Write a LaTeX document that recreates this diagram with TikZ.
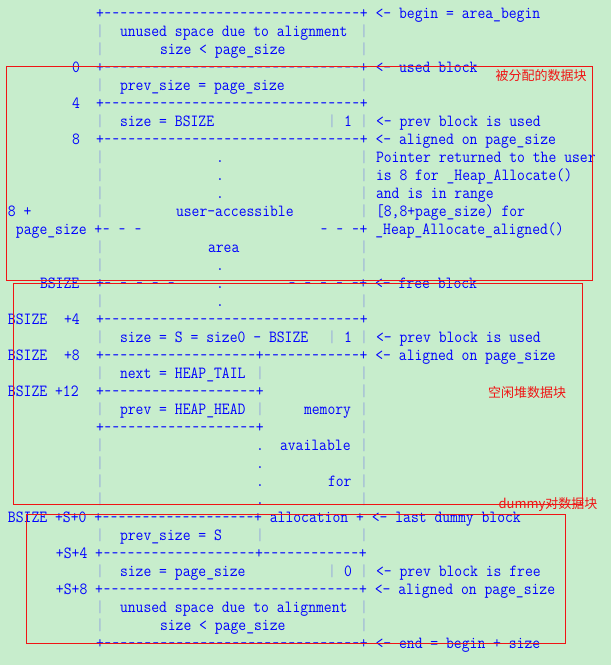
\documentclass[tikz,border=0pt]{standalone}
\usepackage{fontspec}
\usepackage{graphicx}
\setmonofont[FakeStretch=0.896]{Latin Modern Mono}
\newfontfamily\cjk{Noto Sans CJK SC}
\definecolor{bg}{RGB}{199,237,204}
\definecolor{txtblue}{RGB}{0,0,255}
\definecolor{barc}{RGB}{150,170,220}
\definecolor{redc}{RGB}{240,20,20}
\tikzset{
  asc/.style={font=\ttfamily\fontsize{17}{18}\selectfont, text=txtblue, anchor=base west, inner sep=0pt, outer sep=0pt},
  redbox/.style={draw=redc, line width=1pt},
  redlabel/.style={font=\cjk\fontsize{13}{15}\selectfont, text=redc, inner sep=0pt},
}
\newcommand\hy{\makebox[8pt][c]{\scalebox{0.82}[1]{-}}}
\newcount\dcnt
\newcommand\dashes[1]{\dcnt=0 \loop\ifnum\dcnt<#1 \hy\advance\dcnt by 1 \repeat}
\newcommand\seg[3]{\node[asc, name=s-#1-#2] at ({8+8*#2},{18.5+18*#1}) {#3};}
\newcommand\vbar[2]{\node[asc, text=barc, name=b-#1-#2] at ({8+8*#2},{18.5+18*#1}) {|};}
\begin{document}
\begin{tikzpicture}[x={(1pt,0)}, y={(0,-1pt)}]
\fill[bg] (0,0) rectangle (611,665);
\useasboundingbox (0,0) rectangle (611,665);
\seg{0}{11}{+\dashes{32}+ <- begin = area\_begin}
\vbar{1}{11}\seg{1}{14}{unused space due to alignment}\vbar{1}{44}
\vbar{2}{11}\seg{2}{19}{size < page\_size}\vbar{2}{44}
\seg{3}{8}{0}\seg{3}{11}{+\dashes{32}+ <- used block}
\vbar{4}{11}\seg{4}{14}{prev\_size = page\_size}\vbar{4}{44}
\seg{5}{8}{4}\seg{5}{11}{+\dashes{32}+}
\vbar{6}{11}\seg{6}{14}{size = BSIZE}\vbar{6}{40}\seg{6}{42}{1}\vbar{6}{44}\seg{6}{46}{<- prev block is used}
\seg{7}{8}{8}\seg{7}{11}{+\dashes{32}+ <- aligned on page\_size}
\vbar{8}{11}\seg{8}{26}{.}\vbar{8}{44}\seg{8}{46}{Pointer returned to the user}
\vbar{9}{11}\seg{9}{26}{.}\vbar{9}{44}\seg{9}{46}{is 8 for \_Heap\_Allocate()}
\vbar{10}{11}\seg{10}{26}{.}\vbar{10}{44}\seg{10}{46}{and is in range}
\seg{11}{0}{8 +}\vbar{11}{11}\seg{11}{21}{user-accessible}\vbar{11}{44}\seg{11}{46}{[8,8+page\_size) for}
\seg{12}{1}{page\_size +\hy{} \hy{} \hy}\seg{12}{39}{\hy{} \hy{} \hy+ \_Heap\_Allocate\_aligned()}
\vbar{13}{11}\seg{13}{25}{area}\vbar{13}{44}
\vbar{14}{11}\seg{14}{26}{.}\vbar{14}{44}
\seg{15}{4}{BSIZE}\seg{15}{11}{+\hy{} \hy{} \hy{} \hy{} \hy}\seg{15}{26}{.}\seg{15}{35}{\hy{} \hy{} \hy{} \hy{} \hy+ <- free block}
\vbar{16}{11}\seg{16}{26}{.}\vbar{16}{44}
\seg{17}{0}{BSIZE}\seg{17}{7}{+4}\seg{17}{11}{+\dashes{32}+}
\vbar{18}{11}\seg{18}{14}{size = S = size0 - BSIZE}\vbar{18}{40}\seg{18}{42}{1}\vbar{18}{44}\seg{18}{46}{<- prev block is used}
\seg{19}{0}{BSIZE}\seg{19}{7}{+8}\seg{19}{11}{+\dashes{19}+\dashes{12}+ <- aligned on page\_size}
\vbar{20}{11}\seg{20}{14}{next = HEAP\_TAIL}\vbar{20}{31}\vbar{20}{44}
\seg{21}{0}{BSIZE +12}\seg{21}{11}{+\dashes{19}+}\vbar{21}{44}
\vbar{22}{11}\seg{22}{14}{prev = HEAP\_HEAD}\vbar{22}{31}\seg{22}{37}{memory}\vbar{22}{44}
\seg{23}{11}{+\dashes{19}+}\vbar{23}{44}
\vbar{24}{11}\seg{24}{31}{.}\seg{24}{34}{available}\vbar{24}{44}
\vbar{25}{11}\seg{25}{31}{.}\vbar{25}{44}
\vbar{26}{11}\seg{26}{31}{.}\seg{26}{40}{for}\vbar{26}{44}
\vbar{27}{11}\seg{27}{31}{.}\vbar{27}{44}
\seg{28}{0}{BSIZE +S+0 +\dashes{19}+ allocation + <- last dummy block}
\vbar{29}{11}\seg{29}{14}{prev\_size = S}\vbar{29}{31}\vbar{29}{44}
\seg{30}{6}{+S+4 +\dashes{19}+\dashes{12}+}
\vbar{31}{11}\seg{31}{14}{size = page\_size}\vbar{31}{40}\seg{31}{42}{0}\vbar{31}{44}\seg{31}{46}{<- prev block is free}
\seg{32}{6}{+S+8 +\dashes{32}+ <- aligned on page\_size}
\vbar{33}{11}\seg{33}{14}{unused space due to alignment}\vbar{33}{44}
\vbar{34}{11}\seg{34}{19}{size < page\_size}\vbar{34}{44}
\seg{35}{11}{+\dashes{32}+ <- end = begin + size}
% red frames
\draw[redbox] (6,66) rectangle (592,280);
\draw[redbox] (13,283) rectangle (582,504);
\draw[redbox] (26,514) rectangle (565,643);
\node[redlabel, name=lab1] at (541,76) {被分配的数据块};
\node[redlabel, name=lab2] at (527,393) {空闲堆数据块};
\node[redlabel, name=lab3] at (548,505) {dummy对数据块};
\end{tikzpicture}
\end{document}
